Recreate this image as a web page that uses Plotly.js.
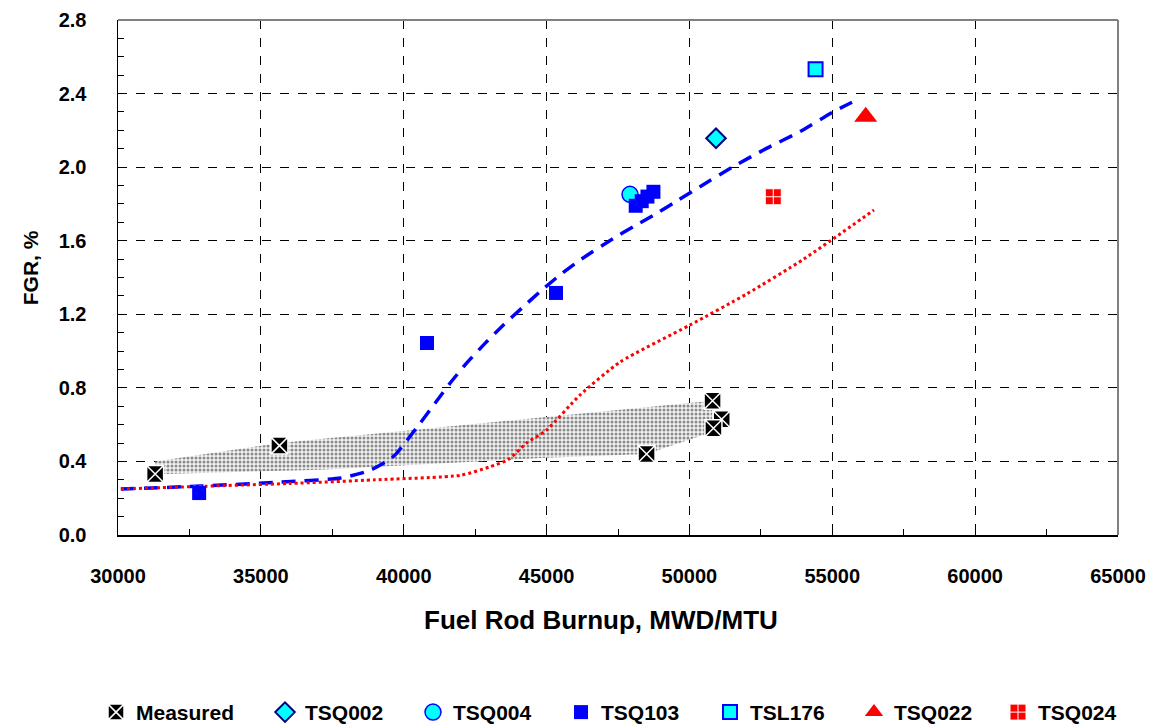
<!DOCTYPE html>
<html>
<head>
<meta charset="utf-8">
<script src="https://cdn.plot.ly/plotly-3.0.1.min.js"></script>
<style>html,body{margin:0;padding:0;background:#fff}#chart{width:1164px;height:727px}</style>
</head>
<body>
<div id="chart"></div>
<script>
// ---- data ----
const measuredX = [31300, 35650, 48500, 50810, 51130, 50840];
const measuredY = [0.332, 0.486, 0.440, 0.730, 0.629, 0.580];

const bandX = [31300, 35650, 39170, 46170, 50800, 50800, 48500, 45000, 40000, 37070, 31300];
const bandY = [0.40, 0.50, 0.553, 0.658, 0.73, 0.56, 0.44, 0.42, 0.38, 0.355, 0.33];

const blueX = [30100, 32900, 35700, 37800, 38800, 39500, 39750, 40570, 41095, 41620, 42200, 42845, 43490, 44130, 44770, 45470, 46170, 47340, 48040, 48860, 49610, 50370, 51535, 52700, 53870, 55035, 55500, 55850];
const blueY = [0.25, 0.266, 0.288, 0.31, 0.35, 0.41, 0.444, 0.607, 0.716, 0.825, 0.934, 1.042, 1.142, 1.233, 1.323, 1.414, 1.495, 1.613, 1.676, 1.749, 1.821, 1.894, 2.003, 2.102, 2.193, 2.301, 2.338, 2.365];

const redX = [30100, 33000, 36000, 39000, 42000, 43000, 43660, 44300, 45000, 46170, 47570, 50000, 52000, 54000, 56460];
const redY = [0.25, 0.265, 0.28, 0.30, 0.325, 0.37, 0.41, 0.50, 0.571, 0.761, 0.94, 1.14, 1.31, 1.50, 1.767];

const tsq002X = [50930], tsq002Y = [2.157];
const tsq004X = [47920], tsq004Y = [1.852];
const tsq103X = [32840, 40815, 45330, 48120, 48330, 48530, 48740];
const tsq103Y = [0.228, 1.044, 1.316, 1.79, 1.815, 1.84, 1.866];
const tsl176X = [54415], tsl176Y = [2.532];
const tsq022X = [56170], tsq022Y = [2.274];
const tsq024X = [52935], tsq024Y = [1.839];

const xTitle = 'Fuel Rod Burnup, MWD/MTU';
const yTitle = 'FGR, %';

const FONT = 'Arial, "Liberation Sans", sans-serif';

const traces = [
  {x: bandX, y: bandY, type: 'scatter', mode: 'lines', fill: 'toself', showlegend: false,
   line: {width: 0, color: 'rgba(0,0,0,0)'}, fillcolor: '#f0f0f0',
   fillpattern: {shape: '.', fgcolor: '#8a8a8a', bgcolor: '#f2f2f2', size: 4, solidity: 0.45}, hoverinfo: 'skip'},
  {x: blueX, y: blueY, type: 'scatter', mode: 'lines', showlegend: false,
   line: {color: '#0000ff', width: 3.5, dash: '14px,9px', shape: 'spline', smoothing: 0.6}},
  {x: redX, y: redY, type: 'scatter', mode: 'lines', showlegend: false,
   line: {color: '#ff0000', width: 3, dash: 'dot', shape: 'spline', smoothing: 0.6}},
  {x: measuredX, y: measuredY, type: 'scatter', mode: 'markers', name: 'Measured', legend: 'legend',
   marker: {symbol: 'square-x', size: 17, color: '#000000', line: {color: '#ffffff', width: 1.5}}},
  {x: tsq002X, y: tsq002Y, type: 'scatter', mode: 'markers', name: 'TSQ002', legend: 'legend2',
   marker: {symbol: 'diamond', size: 15, color: '#00ffff', line: {color: '#000080', width: 2}}},
  {x: tsq004X, y: tsq004Y, type: 'scatter', mode: 'markers', name: 'TSQ004', legend: 'legend2',
   marker: {symbol: 'circle', size: 16, color: '#00ffff', line: {color: '#0000ff', width: 1.5}}},
  {x: tsq103X, y: tsq103Y, type: 'scatter', mode: 'markers', name: 'TSQ103', legend: 'legend2',
   marker: {symbol: 'square', size: 14, color: '#0000ff', line: {color: '#0000ff', width: 0}}},
  {x: tsl176X, y: tsl176Y, type: 'scatter', mode: 'markers', name: 'TSL176', legend: 'legend3',
   marker: {symbol: 'square', size: 14, color: '#00ffff', line: {color: '#0000ff', width: 2}}},
  {x: tsq022X, y: tsq022Y, type: 'scatter', mode: 'markers', name: 'TSQ022', legend: 'legend3',
   marker: {symbol: 'triangle-up', size: 20, color: '#ff0000', line: {color: '#ff0000', width: 0}}},
  {x: tsq024X, y: tsq024Y, type: 'scatter', mode: 'markers', name: 'TSQ024', legend: 'legend3',
   marker: {symbol: 'square-cross', size: 16, color: '#ff0000', line: {color: '#ffffff', width: 1}}}
];

function legendAt(xPx, ew) {
  return {orientation: 'h', xref: 'container', yref: 'container', x: xPx / 1164, xanchor: 'left',
          y: 0.02, yanchor: 'middle', entrywidth: ew, entrywidthmode: 'pixels', itemwidth: 30,
          bgcolor: 'rgba(0,0,0,0)',
          font: {family: FONT, size: 21, color: '#000', weight: 'bold'}, traceorder: 'normal'};
}

const layout = {
  width: 1164, height: 727,
  margin: {l: 118, r: 46, t: 20, b: 192},
  paper_bgcolor: '#ffffff', plot_bgcolor: '#ffffff',
  font: {family: FONT, size: 20, color: '#000', weight: 'bold'},
  showlegend: true,
  legend: legendAt(96, 100),
  legend2: legendAt(265, 103),
  legend3: legendAt(710, 99),
  xaxis: {
    range: [30000, 65000], dtick: 5000, tick0: 30000, tickformat: 'd',
    showline: true, linecolor: '#000', linewidth: 1.5,
    ticks: 'inside', ticklen: 6, tickcolor: '#000', tickwidth: 1,
    minor: {dtick: 2500, ticks: 'inside', ticklen: 6, tickcolor: '#000', showgrid: false},
    showgrid: true, gridcolor: '#000', griddash: 'dash', gridwidth: 1,
    zeroline: false, ticklabelstandoff: 22, automargin: false,
    tickfont: {family: FONT, size: 20, color: '#000', weight: 'bold'}
  },
  yaxis: {
    range: [0, 2.8], dtick: 0.4, tick0: 0, tickformat: '.1f',
    showline: true, linecolor: '#000', linewidth: 1.5,
    ticks: 'inside', ticklen: 6, tickcolor: '#000', tickwidth: 1,
    minor: {dtick: 0.1, ticks: 'inside', ticklen: 6, tickcolor: '#000', showgrid: false},
    showgrid: true, gridcolor: '#000', griddash: 'dash', gridwidth: 1,
    zeroline: false, ticklabelstandoff: 26, automargin: false,
    tickfont: {family: FONT, size: 20, color: '#000', weight: 'bold'}
  },
  annotations: [
    {text: xTitle, xref: 'paper', yref: 'paper', x: 0.483, y: -0.165, xanchor: 'center', yanchor: 'middle',
     showarrow: false, font: {family: FONT, size: 26, color: '#000', weight: 'bold'}},
    {text: yTitle, xref: 'paper', yref: 'paper', x: -0.088, y: 0.518, xanchor: 'center', yanchor: 'middle',
     textangle: -90, showarrow: false, font: {family: FONT, size: 21, color: '#000', weight: 'bold'}}
  ],
  shapes: [
    {type: 'line', xref: 'paper', yref: 'paper', x0: 0, x1: 1, y0: 1, y1: 1, line: {color: '#808080', width: 2}},
    {type: 'line', xref: 'paper', yref: 'paper', x0: 1, x1: 1, y0: 0, y1: 1, line: {color: '#808080', width: 2}}
  ]
};

Plotly.newPlot('chart', traces, layout, {displayModeBar: false, staticPlot: true});
</script>
</body>
</html>
